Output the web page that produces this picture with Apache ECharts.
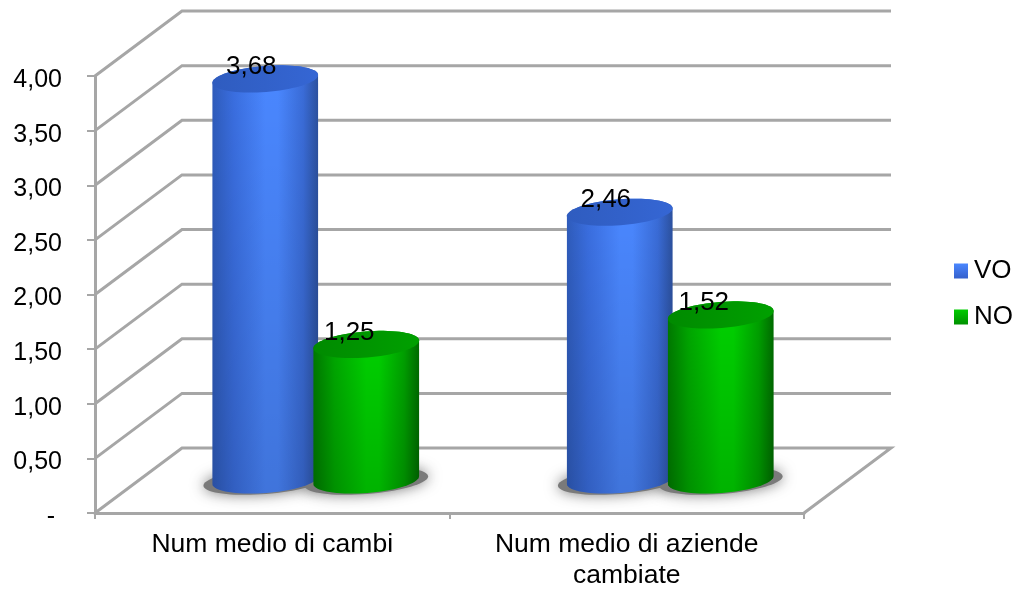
<!DOCTYPE html>
<html>
<head>
<meta charset="utf-8">
<style>html,body{margin:0;padding:0;background:#fff}#c{width:1016px;height:589px}</style>
<script src="https://cdn.jsdelivr.net/npm/echarts@6/dist/echarts.min.js"></script>
</head>
<body>
<div id="c"></div>
<script>
var categories = ['Num medio di cambi', 'Num medio di aziende\ncambiate'];
var seriesNames = ['VO', 'NO'];
var valuesVO = [3.68, 2.46];
var valuesNO = [1.25, 1.52];
var yTicks = [0, 0.5, 1, 1.5, 2, 2.5, 3, 3.5, 4];
var yTickLabels = ['- ', '0,50', '1,00', '1,50', '2,00', '2,50', '3,00', '3,50', '4,00'];

var FONT = '"Liberation Sans", Arial, sans-serif';
var GRID_COLOR = '#a6a6a6';
var BACK_DX = 87, BACK_DY = 65;
var MID_DX = 43, MID_DY = 32, BASE_DY = 33;
var RX = 53, RY = 13, TILT = -4.5 * Math.PI / 180;
var SHIFT = { VO: -50, NO: 51 };
var LABEL_DX = { VO: -14, NO: -17 };

var chart = echarts.init(document.getElementById('c'), null, { renderer: 'canvas' });
var G = echarts.graphic.LinearGradient;

function ellPt(cx, cy, rx, ry, t) {
  var c = Math.cos(t), s = Math.sin(t), ca = Math.cos(TILT), sa = Math.sin(TILT);
  return [cx + rx * c * ca - ry * s * sa, cy + rx * c * sa + ry * s * ca];
}
function ellipse(cx, cy, rx, ry) {
  var p = [];
  for (var i = 0; i < 72; i++) p.push(ellPt(cx, cy, rx, ry, i / 72 * 2 * Math.PI));
  return p;
}
function body(cx, topY, baseY) {
  var p = [], i;
  for (i = 0; i <= 36; i++) p.push(ellPt(cx, baseY, RX, RY, i / 36 * Math.PI));
  for (i = 0; i <= 36; i++) p.push(ellPt(cx, topY, RX, RY, Math.PI + i / 36 * Math.PI));
  return p;
}
var PAL = {
  VO: { stops: ['#2f5cbc', '#3a6ee0', '#4a87ff', '#4a87ff', '#3a6cd8', '#2c519f'], top: ['#2f5cbf', '#3566d4'] },
  NO: { stops: ['#007a00', '#00a800', '#00d000', '#00d000', '#00a000', '#006c00'], top: ['#008a00', '#00a000'] }
};
var OFFS = [0, 0.2, 0.5, 0.62, 0.86, 1];
function cylinder(name) {
  return function (params, api) {
    var cat = api.value(0), v = api.value(1);
    var front = api.coord([cat, v]), zero = api.coord([cat, 0]);
    var cx = front[0] + MID_DX + SHIFT[name];
    var topY = front[1] - MID_DY, baseY = zero[1] - BASE_DY;
    var pal = PAL[name];
    return {
      type: 'group',
      children: [
        { type: 'polygon', shape: { points: body(cx, topY, baseY) },
          style: { fill: new G(0, 0, 1, 0, pal.stops.map(function (c, i) { return { offset: OFFS[i], color: c }; })) } },
        { type: 'polygon', shape: { points: body(cx, topY, baseY) },
          style: { fill: new G(0, 0, 0, 1, [
            { offset: 0, color: 'rgba(0,0,0,0)' }, { offset: 1, color: 'rgba(0,0,0,0.14)' }]) } },
        { type: 'polygon', shape: { points: ellipse(cx, topY, RX, RY) },
          style: { fill: new G(0, 0, 1, 0, [
            { offset: 0, color: pal.top[0] }, { offset: 1, color: pal.top[1] }]) } },
        { type: 'text', x: cx + LABEL_DX[name], y: topY - 12,
          style: { text: v.toFixed(2).replace('.', ','), font: '26px ' + FONT, fill: '#000', align: 'center', verticalAlign: 'middle' } }
      ]
    };
  };
}
function renderWall(params, api) {
  var v = api.value(0);
  var y = api.coord([0, v])[1];
  var L = params.coordSys.x, R = L + params.coordSys.width;
  var pts = [[L, y], [L + BACK_DX, y - BACK_DY], [R + BACK_DX, y - BACK_DY]];
  if (v === 0) pts.push([R, y]);
  return { type: 'polyline', shape: { points: pts }, style: { fill: 'none', stroke: GRID_COLOR, lineWidth: 3 } };
}
function renderShadow(params, api) {
  var cat = api.value(0), shift = api.value(2);
  var zero = api.coord([cat, 0]);
  var cx = zero[0] + MID_DX + shift;
  return { type: 'polygon', shape: { points: ellipse(cx, zero[1] - BASE_DY + 1, RX + 9, RY) },
    style: { fill: '#7a7a7a', shadowBlur: 14, shadowColor: 'rgba(110,110,110,0.9)' } };
}
var shadowData = [];
valuesVO.forEach(function (v, i) { shadowData.push([i, v, SHIFT.VO]); });
valuesNO.forEach(function (v, i) { shadowData.push([i, v, SHIFT.NO]); });

chart.setOption({
  animation: false,
  backgroundColor: '#fff',
  grid: { left: 95, right: 212, top: 76, bottom: 76, containLabel: false, outerBoundsMode: 'none' },
  legend: {
    orient: 'vertical', left: 949, top: 253, itemWidth: 14, itemHeight: 15, itemGap: 20,
    selectedMode: false, icon: 'rect',
    textStyle: { fontFamily: FONT, fontSize: 26, color: '#000', padding: [0, 0, 0, 1] },
    data: [
      { name: 'VO', itemStyle: { color: new G(0, 0, 0, 1, [{ offset: 0, color: '#4a87ff' }, { offset: 1, color: '#3560cc' }]) } },
      { name: 'NO', itemStyle: { color: new G(0, 0, 0, 1, [{ offset: 0, color: '#00cc00' }, { offset: 1, color: '#009000' }]) } }
    ]
  },
  xAxis: {
    type: 'category', data: categories,
    axisLine: { lineStyle: { color: GRID_COLOR, width: 3 } },
    axisTick: { show: true, length: 6, lineStyle: { color: GRID_COLOR, width: 2 } },
    axisLabel: { fontFamily: FONT, fontSize: 26.5, color: '#000', margin: 16, lineHeight: 31, interval: 0 }
  },
  yAxis: {
    type: 'value', min: 0, max: 4, interval: 0.5,
    splitLine: { show: false },
    axisLine: { show: true, lineStyle: { color: GRID_COLOR, width: 3 } },
    axisTick: { show: true, length: 8, lineStyle: { color: GRID_COLOR, width: 2 } },
    axisLabel: {
      fontFamily: FONT, fontSize: 25, color: '#000', margin: 33, verticalAlign: 'top', lineHeight: 8,
      formatter: function (val) { return yTickLabels[yTicks.indexOf(val)]; }
    }
  },
  tooltip: { show: false },
  series: [
    { type: 'custom', name: 'walls', renderItem: renderWall, silent: true, clip: false,
      data: yTicks.map(function (v) { return [v]; }), encode: { y: 0 }, z: 1 },
    { type: 'custom', name: 'shadow', renderItem: renderShadow, silent: true, clip: false,
      data: shadowData, encode: { x: 0, y: 1 }, z: 2 },
    { type: 'custom', name: seriesNames[0], renderItem: cylinder('VO'), clip: false, itemStyle: { color: '#4a87ff' },
      data: valuesVO.map(function (v, i) { return [i, v]; }), encode: { x: 0, y: 1 }, z: 3 },
    { type: 'custom', name: seriesNames[1], renderItem: cylinder('NO'), clip: false, itemStyle: { color: '#00cc00' },
      data: valuesNO.map(function (v, i) { return [i, v]; }), encode: { x: 0, y: 1 }, z: 4 }
  ]
});
</script>
</body>
</html>
